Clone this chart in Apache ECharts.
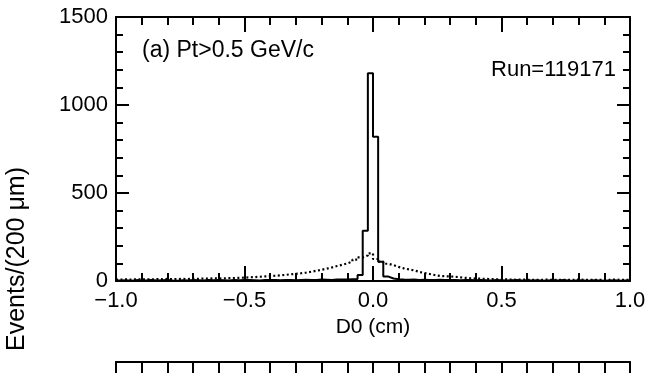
<!DOCTYPE html>
<html>
<head>
<meta charset="utf-8">
<script src="https://cdn.jsdelivr.net/npm/echarts@6/dist/echarts.min.js"></script>
<style>html,body{margin:0;padding:0;background:#fff;}#c{width:660px;height:373px;}</style>
</head>
<body>
<div id="c"></div>
<script>
// Histogram: 100 bins of 0.02 cm from -1.0 to 1.0 (values are bin contents)
const binStart = -1.0;
const binWidth = 0.02;
const solidCounts = [
  3, 4, 2, 5, 3, 4, 6, 3, 4, 5,
  3, 2, 4, 3, 5, 4, 3, 6, 4, 5,
  4, 3, 5, 4, 6, 5, 4, 3, 5, 6,
  5, 4, 6, 5, 4, 6, 7, 5, 6, 8,
  7, 6, 8, 9, 8, 10, 12, 34, 286, 1180,
  820, 110, 25, 14, 10, 8, 7, 8, 6, 7,
  6, 5, 7, 6, 5, 6, 4, 5, 6, 4,
  5, 4, 3, 5, 4, 3, 4, 5, 3, 4,
  3, 4, 2, 3, 4, 3, 5, 3, 2, 4,
  3, 2, 4, 3, 2, 3, 4, 2, 3, 3
];
const dottedCounts = [
  8, 9, 8, 10, 9, 10, 9, 11, 10, 12,
  10, 11, 12, 11, 13, 12, 14, 13, 15, 14,
  15, 16, 17, 18, 19, 21, 22, 24, 26, 28,
  30, 32, 35, 38, 41, 44, 48, 53, 58, 64,
  70, 77, 85, 92, 100, 110, 122, 134, 145, 157,
  125, 110, 98, 90, 80, 72, 66, 60, 52, 45,
  40, 34, 29, 27, 26, 24, 21, 18, 15, 14,
  13, 12, 11, 10, 8, 9, 8, 7, 8, 7,
  7, 6, 7, 8, 6, 7, 6, 7, 6, 8,
  7, 6, 7, 6, 7, 6, 8, 7, 6, 7
];
const xTicks = [-1.0, -0.5, 0.0, 0.5, 1.0];
const yTicks = [0, 500, 1000, 1500];
const labelA = '(a) Pt>0.5 GeV/c';
const labelRun = 'Run=119171';
const xName = 'D0 (cm)';
const yName = 'Events/(200 \u03bcm)';

function toSteps(counts) {
  const pts = counts.map((v, i) => [+(binStart + i * binWidth).toFixed(2), v]);
  pts.push([+(binStart + counts.length * binWidth).toFixed(2), counts[counts.length - 1]]);
  return pts;
}
const FONT = 'Liberation Sans';
const fmtX = v => (v < 0 ? '\u2212' : '') + Math.abs(v).toFixed(1);
const fmtY = v => String(v);

const chart = echarts.init(document.getElementById('c'), null, {renderer: 'canvas'});
const axisLine = {show: true, onZero: false, lineStyle: {color: '#000', width: 2}};
const xCommon = {
  type: 'value', min: xTicks[0], max: xTicks[xTicks.length - 1], interval: 0.5,
  axisLine: axisLine, splitLine: {show: false},
  axisTick: {show: true, inside: true, length: 15, lineStyle: {color: '#000', width: 2}},
  minorTick: {show: true, splitNumber: 5, length: 8, lineStyle: {color: '#000', width: 2}}
};
const yCommon = {
  type: 'value', min: yTicks[0], max: yTicks[yTicks.length - 1], interval: 500,
  axisLine: axisLine, splitLine: {show: false},
  axisTick: {show: true, inside: true, length: 13, lineStyle: {color: '#000', width: 2}},
  minorTick: {show: true, splitNumber: 5, length: 7, lineStyle: {color: '#000', width: 2}}
};
chart.setOption({
  animation: false,
  backgroundColor: '#fff',
  grid: [
    {left: 116, right: 30, top: 17, height: 264},
    {left: 116, right: 30, top: 362, height: 264}
  ],
  xAxis: [
    Object.assign({}, xCommon, {gridIndex: 0, position: 'bottom',
      name: xName, nameLocation: 'middle', nameGap: 27,
      nameTextStyle: {fontFamily: FONT, fontSize: 21, color: '#000'},
      axisLabel: {show: true, margin: 9, fontFamily: FONT, fontSize: 22, color: '#000', formatter: fmtX,
        showMinLabel: true, showMaxLabel: true}}),
    Object.assign({}, xCommon, {gridIndex: 0, position: 'top', axisLabel: {show: false}}),
    Object.assign({}, xCommon, {gridIndex: 1, position: 'top', axisLabel: {show: false},
      axisTick: {show: true, inside: true, length: 15, lineStyle: {color: '#000', width: 2}},
      minorTick: {show: true, splitNumber: 5, length: 12, lineStyle: {color: '#000', width: 2}}})
  ],
  yAxis: [
    Object.assign({}, yCommon, {gridIndex: 0, position: 'left',
      axisLabel: {show: true, margin: 8, fontFamily: FONT, fontSize: 22, color: '#000', formatter: fmtY,
        showMinLabel: true, showMaxLabel: true}}),
    Object.assign({}, yCommon, {gridIndex: 0, position: 'right', axisLabel: {show: false}}),
    Object.assign({}, yCommon, {gridIndex: 1, position: 'left', axisLabel: {show: false}, axisTick: {show: false}, minorTick: {show: false}}),
    Object.assign({}, yCommon, {gridIndex: 1, position: 'right', axisLabel: {show: false}, axisTick: {show: false}, minorTick: {show: false}})
  ],
  series: [
    {type: 'line', xAxisIndex: 0, yAxisIndex: 0, step: 'end', symbol: 'none',
      data: toSteps(dottedCounts), lineStyle: {color: '#000', width: 2.2, type: [2, 2.5]}},
    {type: 'line', xAxisIndex: 0, yAxisIndex: 0, step: 'end', symbol: 'none',
      data: toSteps(solidCounts), lineStyle: {color: '#000', width: 2}}
  ],
  graphic: [
    {type: 'text', left: 142, top: 39, style: {text: labelA, fontFamily: FONT, fontSize: 23, fill: '#000'}},
    {type: 'text', right: 44, top: 59, style: {text: labelRun, fontFamily: FONT, fontSize: 22, fill: '#000'}},
    {type: 'text', x: 17, y: 259, rotation: Math.PI / 2,
      style: {text: yName, fontFamily: FONT, fontSize: 25, fill: '#000', align: 'center', verticalAlign: 'middle'}}
  ]
});
</script>
</body>
</html>
